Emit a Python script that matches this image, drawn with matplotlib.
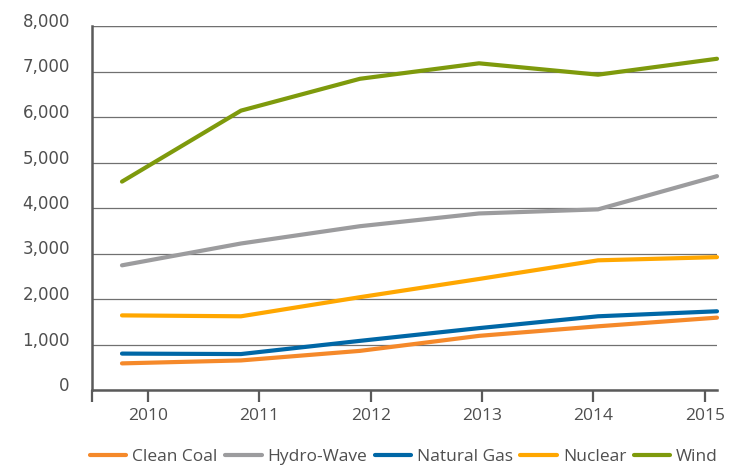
import matplotlib
matplotlib.use("Agg")
import matplotlib.pyplot as plt
import matplotlib.transforms as mtransforms

years = [2010, 2011, 2012, 2013, 2014, 2015]
tick_labels = ["2010", "2011", "2012", "2013", "2014", "2015"]
clean_coal = [585, 650, 860, 1190, 1400, 1590]
hydro_wave = [2740, 3220, 3600, 3880, 3970, 4700]
natural_gas = [800, 790, 1080, 1360, 1620, 1730]
nuclear = [1640, 1620, 2040, 2440, 2850, 2920]
wind = [4580, 6140, 6840, 7180, 6930, 7280]
series_names = ["Clean Coal", "Hydro-Wave", "Natural Gas", "Nuclear", "Wind"]
colors = ["#F5892A", "#9C9C9E", "#0067A6", "#FFA700", "#7E9A0C"]

text_col = "#4f4f4f"
axis_col = "#5a5a5a"

fig = plt.figure(figsize=(7.44, 4.66), dpi=100)
ax = fig.add_axes([92/744, 1-390/466, (717-92)/744, (390-26)/466])

for vals, name, c in zip([clean_coal, hydro_wave, natural_gas, nuclear, wind], series_names, colors):
    ax.plot(years, vals, color=c, lw=3.0, solid_capstyle="round", solid_joinstyle="round",
            label=name, clip_on=False, zorder=3)

ax.set_ylim(0, 8000)
ax.set_xlim(2009.748, 2015.0)
ax.set_yticks(range(0, 8001, 1000))
ax.set_yticklabels([f"{v:,}" for v in range(0, 8001, 1000)], family="DejaVu Sans",
                   fontsize=12, color=text_col)
ax.yaxis.grid(True, color="#707070", lw=0.9)
ax.set_axisbelow(True)
ax.tick_params(axis="y", length=0, pad=16)
offset = mtransforms.ScaledTranslation(0, 6/100, fig.dpi_scale_trans)
for lab in ax.get_yticklabels():
    lab.set_transform(lab.get_transform() + offset)

tick_pos = [2010.218 + 0.936*k for k in range(len(years))]
ax.set_xticks(tick_pos)
ax.set_xticklabels(tick_labels, family="Open Sans", fontsize=12.5, color=text_col)
ax.set_xticks([2009.748], minor=True)
ax.tick_params(axis="x", which="both", length=8.6, width=1.6, color=axis_col, pad=4, direction="out")

for s in ["top", "right"]:
    ax.spines[s].set_visible(False)
for s in ["left", "bottom"]:
    ax.spines[s].set_color(axis_col)
    ax.spines[s].set_linewidth(1.8)
ax.axhline(8000, color="#707070", lw=0.9, zorder=1)

handles, labels = ax.get_legend_handles_labels()
leg = fig.legend(handles, labels, loc="center", bbox_to_anchor=(404/744, 1-457/466), ncol=5,
                 frameon=False, handlelength=2.1, handletextpad=0.35, columnspacing=0.42,
                 prop={"family": "Open Sans", "size": 12.5})
for t in leg.get_texts():
    t.set_color(text_col)

fig.savefig("out.png", dpi=100)
